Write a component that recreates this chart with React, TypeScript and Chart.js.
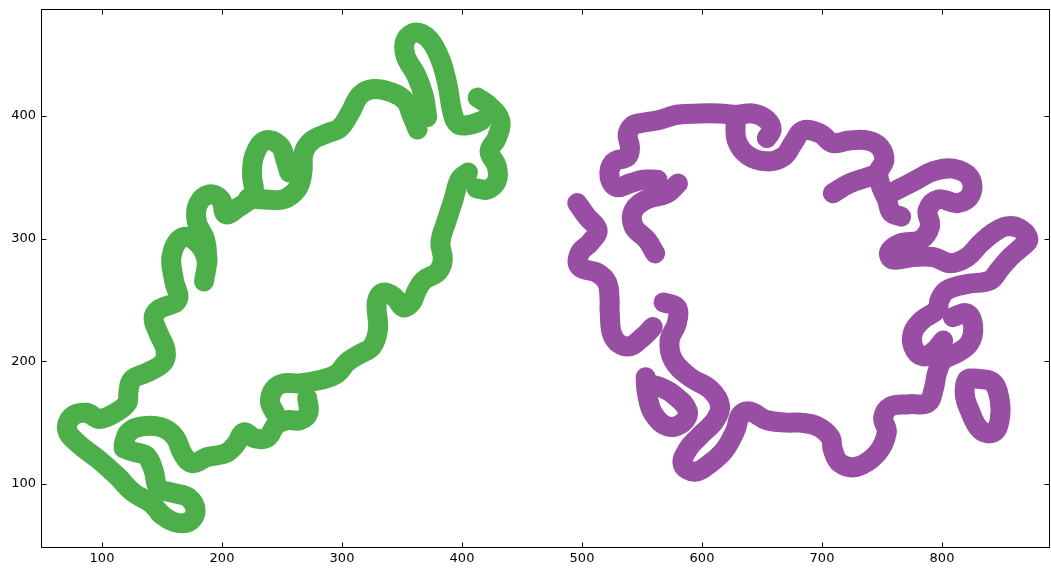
import React, { useEffect, useRef } from "react";
import { Chart, registerables } from "chart.js";

Chart.register(...registerables);

type P = [number, number];

// ---- axis settings ----
const xRange: P = [50, 890];
const yRange: P = [48.6, 486.4];
const xTicks = [100, 200, 300, 400, 500, 600, 700, 800];
const yTicks = [100, 200, 300, 400];

// ---- green shape (fragments of the stroke) ----
const greenA: P[] = [
  [148, 77], [140, 85], [126, 93], [113, 106], [97, 120], [80, 133], [71, 144], [75, 155],
  [87, 158], [98, 153], [111, 158], [121, 166], [122, 175], [125, 185], [138, 191], [151, 199],
  [153, 209], [147, 223], [143, 235], [147, 242], [163, 250], [160, 266], [158, 286], [167, 301],
  [179, 297], [187, 283], [185, 265],
];
const greenB: P[] = [
  [188, 281], [186, 299], [179, 314], [180, 328], [189, 336], [199, 332], [203, 320], [213, 325],
  [226, 336], [225, 352], [227, 368], [236, 380], [248, 376], [253, 364], [256, 354],
];
const greenC: P[] = [
  [222, 333], [236, 332], [251, 332], [263, 341], [267, 354], [268, 370], [275, 380], [288, 386],
  [298, 390], [307, 403], [315, 417], [326, 422], [342, 419], [353, 412], [358, 401], [363, 389],
];
const greenD: P[] = [
  [371, 399], [368, 417], [362, 433], [353, 449], [353, 462], [362, 468], [373, 462], [382, 446],
  [388, 425], [392, 403], [397, 393], [407, 393], [416, 396],
];
const greenE: P[] = [
  [413, 415], [423, 408], [432, 396], [429, 382], [423, 371], [429, 359], [429, 347], [421, 340],
  [412, 341],
];
const greenF: P[] = [
  [405, 354], [398, 348], [393, 332], [387, 314], [382, 297], [384, 283], [380, 273], [368, 266],
  [362, 257], [358, 248], [351, 244], [344, 252], [334, 256], [329, 248], [330, 226], [325, 212],
  [315, 206], [304, 199], [296, 190], [283, 185], [265, 182], [251, 182], [243, 177], [240, 167],
  [244, 158],
];
const greenG: P[] = [
  [271, 170], [272, 158], [265, 152], [254, 152], [245, 148], [238, 138], [228, 137], [218, 142],
  [212, 133], [203, 125], [188, 122], [175, 117], [167, 125], [161, 138], [150, 146], [133, 147],
  [122, 142], [118, 132],
];
const greenH: P[] = [
  [118, 129], [127, 126], [137, 123], [143, 111], [147, 97], [158, 93], [172, 89], [178, 78],
  [172, 69], [160, 69], [148, 76],
];

// ---- purple shape (fragments of the stroke) ----
const purpleA: P[] = [
  [563, 348], [551, 348], [540, 345], [529, 342], [523, 350], [526, 362], [538, 367], [540, 374],
  [538, 385], [542, 392], [548, 394], [565, 397], [579, 401], [598, 402], [615, 402], [629, 401],
  [643, 402], [654, 397], [658, 389], [654, 382],
];
const purpleB: P[] = [
  [628, 398], [629, 380], [638, 368], [654, 363], [668, 367], [676, 378], [684, 388], [698, 386],
  [709, 378], [723, 380], [738, 380], [748, 375], [752, 364], [747, 354], [749, 343], [754, 332],
  [758, 321], [766, 318],
];
const purpleC: P[] = [[709, 337], [723, 345], [738, 350], [747, 353]];
const purpleD: P[] = [
  [755, 336], [765, 341], [779, 348], [793, 355], [809, 357], [823, 350], [824, 336], [813, 329],
  [797, 332], [788, 323], [790, 310], [782, 299], [765, 296], [756, 289], [759, 283], [776, 285],
  [793, 285], [807, 280], [821, 285], [832, 296], [843, 305], [854, 310], [865, 308], [872, 299],
  [865, 292], [857, 285], [848, 275], [840, 266], [821, 263], [804, 258], [798, 250], [796, 242],
  [784, 234], [776, 224], [776, 212], [784, 204], [793, 208], [801, 217],
];
const purpleE: P[] = [
  [809, 236], [821, 239], [826, 228], [823, 215], [813, 207], [801, 201], [796, 191], [793, 177],
  [788, 166], [773, 165], [757, 163], [751, 154], [754, 142], [746, 125], [729, 114], [715, 117],
  [709, 128], [707, 138], [696, 147], [682, 150], [671, 150], [654, 152], [640, 159], [632, 156],
  [628, 144], [619, 128], [607, 117], [594, 110], [584, 116], [588, 128], [598, 139], [611, 152],
  [615, 164], [607, 177], [590, 187], [576, 201], [573, 217], [579, 231], [579, 244], [568, 248],
];
const purpleF: P[] = [
  [553, 187], [554, 175], [559, 158], [571, 147], [584, 150], [588, 160], [576, 173], [565, 179],
  [558, 181],
];
const purpleG: P[] = [
  [496, 329], [504, 318], [513, 307], [507, 297], [498, 288], [498, 277], [513, 272], [521, 264],
  [523, 250], [523, 242], [526, 220], [538, 212], [551, 220], [559, 228],
];
const purpleH: P[] = [
  [580, 345], [571, 337], [554, 332], [543, 323], [543, 310], [554, 299], [561, 288],
];
const purpleR: P[] = [
  [828, 186], [842, 183], [848, 169], [848, 152], [843, 142], [832, 144], [823, 160], [819, 173],
  [821, 185], [828, 186],
];

const greenPaths = [greenA, greenB, greenC, greenD, greenE, greenF, greenG, greenH];
const purplePaths = [purpleA, purpleB, purpleC, purpleD, purpleE, purpleF, purpleG, purpleH, purpleR];

const GREEN = "rgb(77,175,74)";
const PURPLE = "rgb(152,78,163)";

const framePlugin = {
  id: "frame",
  beforeDatasetsDraw(chart: any) {
    chart.ctx.save();
    chart.ctx.filter = "blur(0.7px)";
  },
  afterDatasetsDraw(chart: any) {
    chart.ctx.restore();
  },
  afterDraw(chart: any) {
    const { ctx, chartArea, scales } = chart;
    const { left, top, right, bottom } = chartArea;
    ctx.save();
    ctx.strokeStyle = "#000";
    ctx.lineWidth = 1;
    const L = left - 0.5, T = top - 0.5, R = right - 0.5, B = bottom + 0.5;
    ctx.strokeRect(L, T, R - L, B - T);
    ctx.beginPath();
    const tl = 5;
    xTicks.forEach((v) => {
      const px = Math.round(scales.x.getPixelForValue(v)) + 0.5;
      ctx.moveTo(px, B);
      ctx.lineTo(px, B - tl);
      ctx.moveTo(px, T);
      ctx.lineTo(px, T + tl);
    });
    yTicks.forEach((v) => {
      const py = Math.round(scales.y.getPixelForValue(v)) + 0.5;
      ctx.moveTo(L, py);
      ctx.lineTo(L + tl, py);
      ctx.moveTo(R, py);
      ctx.lineTo(R - tl, py);
    });
    ctx.stroke();
    ctx.restore();
  },
};

function makeDataset(path: P[], color: string) {
  return {
    data: path.map(([x, y]) => ({ x, y })),
    showLine: true,
    borderColor: color,
    backgroundColor: color,
    borderWidth: 20,
    pointRadius: 0,
    pointHoverRadius: 0,
    tension: 0.4,
    borderCapStyle: "round",
    borderJoinStyle: "round",
    fill: false,
  };
}

export default function App() {
  const ref = useRef<HTMLCanvasElement | null>(null);
  useEffect(() => {
    if (!ref.current) return;
    const datasets = [
      ...greenPaths.map((p) => makeDataset(p, GREEN)),
      ...purplePaths.map((p) => makeDataset(p, PURPLE)),
    ];
    const chart = new Chart(ref.current, {
      type: "scatter",
      data: { datasets: datasets as any },
      options: {
        animation: false,
        responsive: false,
        devicePixelRatio: 1,
        layout: { padding: { top: 10, right: 1, left: 0, bottom: 0 } },
        plugins: { legend: { display: false }, tooltip: { enabled: false } },
        events: [],
        scales: {
          x: {
            type: "linear",
            min: xRange[0],
            max: xRange[1],
            afterBuildTicks: (s: any) => {
              s.ticks = xTicks.map((v) => ({ value: v }));
            },
            afterFit: (s: any) => {
              s.height = 22;
              s.paddingLeft = 0;
              s.paddingRight = 0;
              s.paddingTop = 0;
              s.paddingBottom = 0;
            },
            grid: { display: false, drawTicks: false },
            border: { display: false },
            ticks: {
              padding: 4,
              color: "#000",
              font: { family: "DejaVu Sans", size: 13 },
              maxRotation: 0,
              autoSkip: false,
            },
          },
          y: {
            type: "linear",
            min: yRange[0],
            max: yRange[1],
            afterBuildTicks: (s: any) => {
              s.ticks = yTicks.map((v) => ({ value: v }));
            },
            afterFit: (s: any) => {
              s.width = 42;
              s.paddingLeft = 0;
              s.paddingRight = 0;
              s.paddingTop = 0;
              s.paddingBottom = 0;
            },
            grid: { display: false, drawTicks: false },
            border: { display: false },
            ticks: {
              padding: 6,
              color: "#000",
              font: { family: "DejaVu Sans", size: 13 },
              autoSkip: false,
            },
          },
        },
      },
      plugins: [framePlugin as any],
    });
    return () => chart.destroy();
  }, []);
  return (
    <div style={{ position: "absolute", left: 0, top: 0, width: 1051, height: 569, background: "#fff" }}>
      <canvas ref={ref} width={1051} height={569} style={{ display: "block" }} />
    </div>
  );
}
